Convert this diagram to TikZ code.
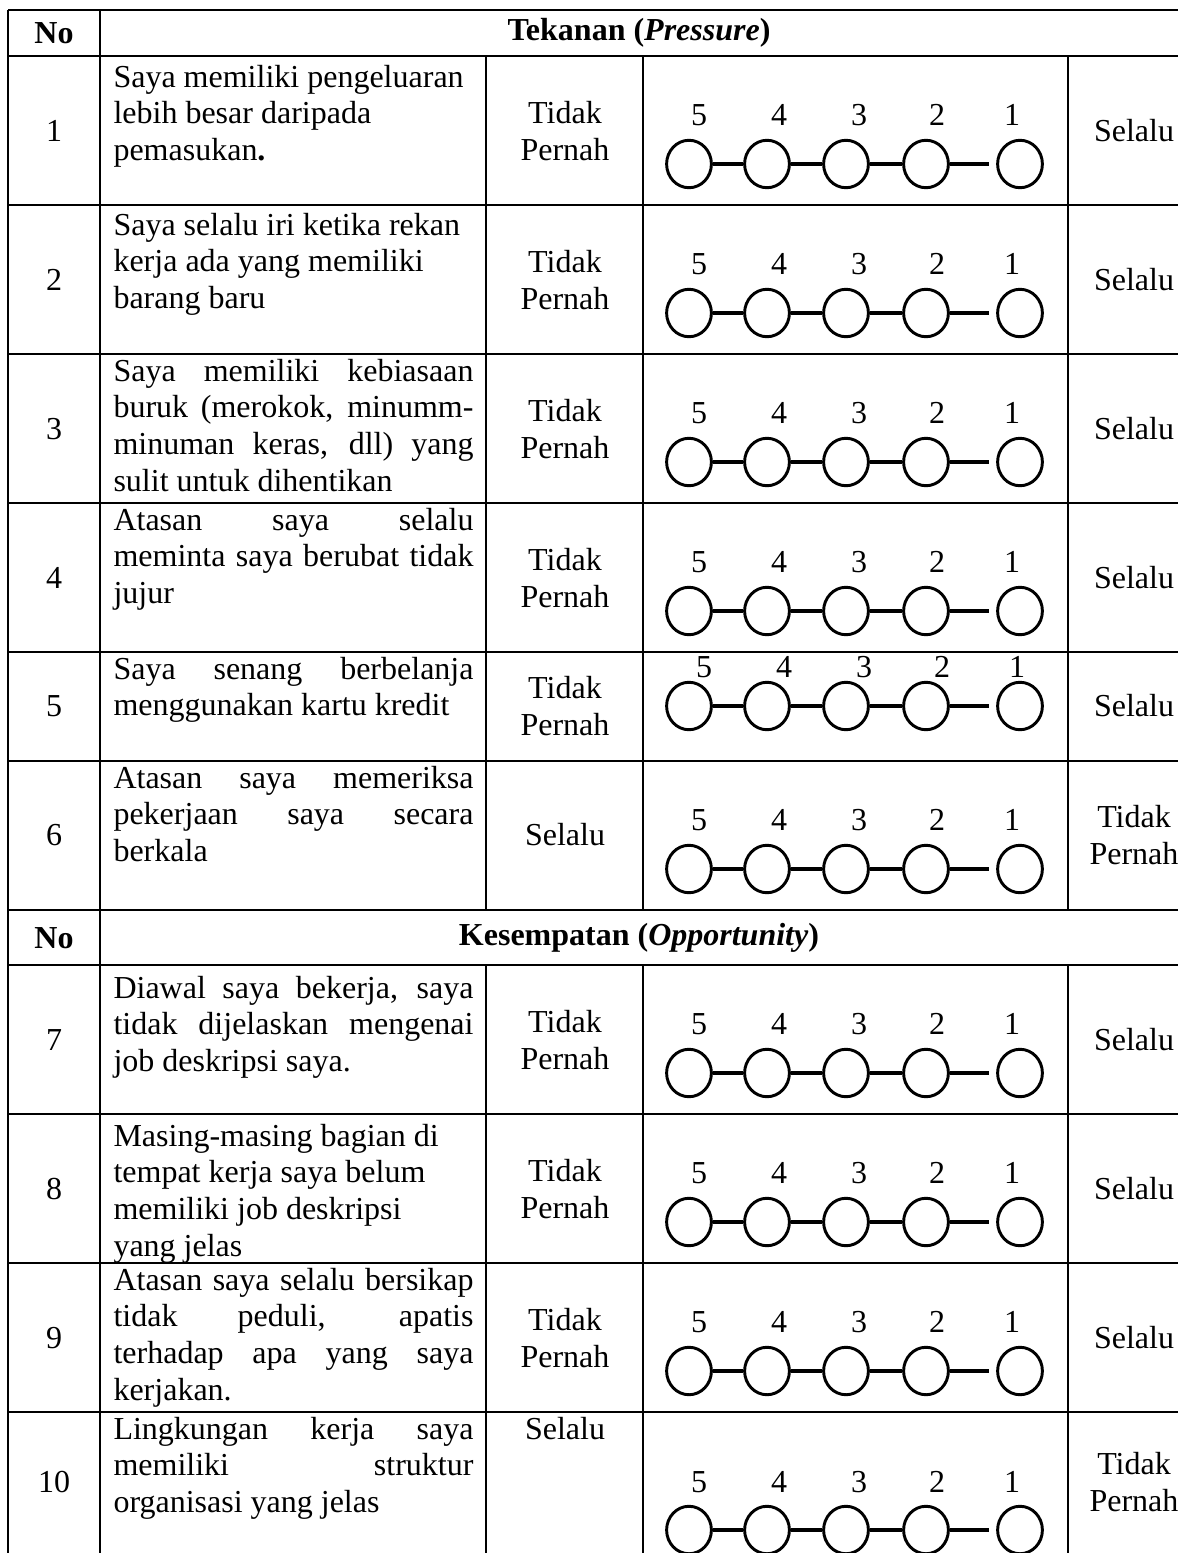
\documentclass[tikz,border=0pt]{standalone}
\usepackage{fontspec}
\setmainfont{Liberation Serif}
\usetikzlibrary{shapes.geometric}
\tikzset{>=latex}
\newcommand{\tanya}[1]{\parbox[t]{135pt}{\tolerance=10000\hbadness=10000 #1}}

\begin{document}
\begin{tikzpicture}[x=0.375pt,y=-0.375pt,
    every node/.style={inner sep=0pt,font=\fontsize{12}{13.8}\selectfont},
    garis/.style={line width=0.75pt},
    bulat/.style={draw,ellipse,line width=1.1pt,minimum width=16.8pt,minimum height=17.8pt},
    sambung/.style={line width=1.2pt}]
    \useasboundingbox (0,0) rectangle (1178,1553);
    % garis tabel
    \foreach \y in {10,56,205,354,503,652,761,910,965,1114,1263,1412}
      \draw[garis] (8,\y) -- (1178,\y);
    \draw[garis] (8,10) -- (8,1553);
    \draw[garis] (100,10) -- (100,1553);
    \foreach \x in {486,643,1068} {
      \draw[garis] (\x,56) -- (\x,910);
      \draw[garis] (\x,965) -- (\x,1553);
    }
    % judul
    \node[font=\fontsize{12}{13.8}\selectfont\bfseries] (no1) at (54,33) {No};
    \node[font=\fontsize{12}{13.8}\selectfont\bfseries] (judul1) at (639,33) {Tekanan (\textit{Pressure})};
    \node[font=\fontsize{12}{13.8}\selectfont\bfseries] (no2) at (54,938) {No};
    \node[font=\fontsize{12}{13.8}\selectfont\bfseries] (judul2) at (639,938) {Kesempatan (\textit{Opportunity})};
    % pernyataan
    \node[anchor=base west] (p1) at (113,87) {\tanya{\raggedright Saya memiliki pengeluaran\\ lebih besar daripada\\ pemasukan\textbf{.}}};
    \node[anchor=base west] (p2) at (113,235) {\tanya{\raggedright Saya selalu iri ketika rekan\\ kerja ada yang memiliki\\ barang baru}};
    \node[anchor=base west] (p3) at (113,381) {\tanya{Saya memiliki kebiasaan\linebreak buruk (merokok, minumm-\linebreak minuman keras, dll) yang\linebreak sulit untuk dihentikan}};
    \node[anchor=base west] (p4) at (113,530) {\tanya{Atasan saya selalu\linebreak meminta saya berubat tidak\linebreak jujur}};
    \node[anchor=base west] (p5) at (113,679) {\tanya{Saya senang berbelanja\linebreak menggunakan kartu kredit}};
    \node[anchor=base west] (p6) at (113,788) {\tanya{Atasan saya memeriksa\linebreak pekerjaan saya secara\linebreak berkala}};
    \node[anchor=base west] (p7) at (113,998) {\tanya{Diawal saya bekerja, saya\linebreak tidak dijelaskan mengenai\linebreak job deskripsi saya.}};
    \node[anchor=base west] (p8) at (113,1146) {\tanya{\raggedright Masing-masing bagian di\\ tempat kerja saya belum\\ memiliki job deskripsi\\ yang jelas}};
    \node[anchor=base west] (p9) at (113,1290) {\tanya{Atasan saya selalu bersikap\linebreak tidak peduli, apatis\linebreak terhadap apa yang saya\linebreak kerjakan.}};
    \node[anchor=base west] (p10) at (113,1439) {\tanya{Lingkungan kerja saya\linebreak memiliki struktur\linebreak organisasi yang jelas}};
    % nomor, label dan skala
    \foreach \r/\m/\ny/\cy/\dx/\ki/\ka in {1/131/115/164/0/{Tidak\\Pernah}/Selalu,
        2/280/264/313/0/{Tidak\\Pernah}/Selalu,
        3/429/413/462/0/{Tidak\\Pernah}/Selalu,
        4/578/562/611/0/{Tidak\\Pernah}/Selalu,
        5/706/667/706/5/{Tidak\\Pernah}/Selalu,
        6/835/820/869/0/Selalu/{Tidak\\Pernah},
        7/1040/1024/1073/0/{Tidak\\Pernah}/Selalu,
        8/1189/1173/1222/0/{Tidak\\Pernah}/Selalu,
        9/1338/1322/1371/0/{Tidak\\Pernah}/Selalu,
        10/1482/1482/1530/0/{}/{Tidak\\Pernah}} {
      \node (nomor\r) at (54,\m) {\r};
      \node[align=center] (kiri\r) at (565,\m) {\ki};
      \node[align=center] (kanan\r) at (1134,\m) {\ka};
      \foreach \i/\x/\xa/\d in {1/689/699/5,2/767/779/4,3/846/859/3,4/926/937/2,5/1020/1012/1} {
        \node[bulat] (s\r-\i) at (\x,\cy) {};
        \node (n\r-\i) at (\xa+\dx,\ny) {\d};
      }
      \draw[sambung] (s\r-1) -- (s\r-2);
      \draw[sambung] (s\r-2) -- (s\r-3);
      \draw[sambung] (s\r-3) -- (s\r-4);
      \draw[sambung,shorten >=2.6pt] (s\r-4) -- (s\r-5);
    }
    \node[anchor=base] (kiri10b) at (565,1439) {Selalu};
\end{tikzpicture}
\end{document}
